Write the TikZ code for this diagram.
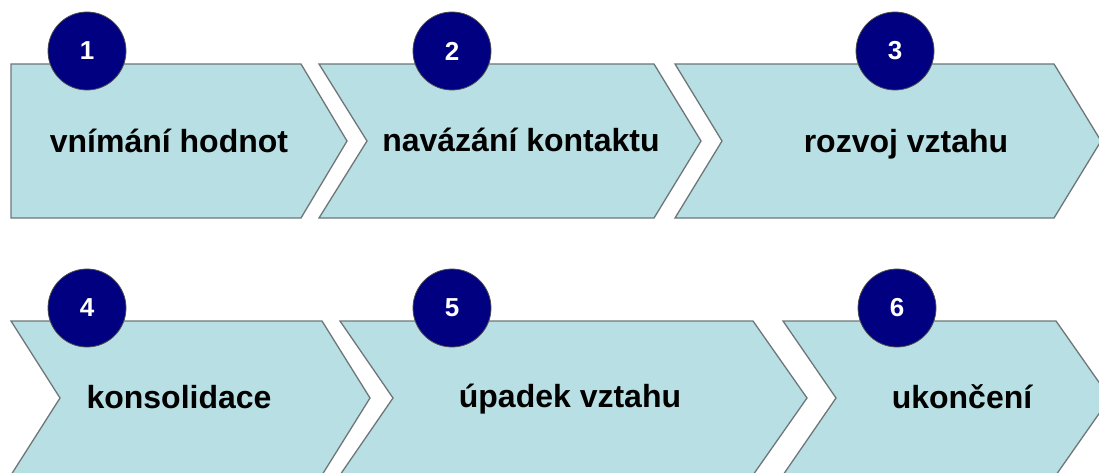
\documentclass[tikz,border=0pt]{standalone}
\usepackage{fontspec}
\setmainfont{Liberation Sans}
\definecolor{chevfill}{RGB}{184,223,227}
\definecolor{chevedge}{RGB}{110,118,120}
\definecolor{navy}{RGB}{0,0,128}
\begin{document}
\begin{tikzpicture}[x=1pt,y=-1pt,
  chev/.style={fill=chevfill,draw=chevedge,line width=1.3pt,line join=miter},
  badge/.style={circle,fill=navy,draw=black!70,line width=0.8pt,minimum size=78pt,inner sep=0pt,
    text=white,font=\fontsize{26}{26}\selectfont\bfseries},
  label/.style={anchor=base,inner sep=0pt,font=\fontsize{32}{32}\selectfont\bfseries,text=black}]
\useasboundingbox (0,0) rectangle (1099,473);
% row 1
\draw[chev] (11,64) -- (301,64) -- (347,141) -- (301,218) -- (11,218) -- cycle;
\draw[chev] (319,64) -- (654,64) -- (701,141) -- (654,218) -- (319,218) -- (367,141) -- cycle;
\draw[chev] (675,64) -- (1054,64) -- (1101,141) -- (1054,218) -- (675,218) -- (722,141) -- cycle;
% row 2
\draw[chev] (11,321) -- (322,321) -- (370,398) -- (322,475) -- (11,475) -- (60,398) -- cycle;
\draw[chev] (340,321) -- (753,321) -- (807,398) -- (753,475) -- (340,475) -- (393,398) -- cycle;
\draw[chev] (783,321) -- (1056,321) -- (1110,398) -- (1056,475) -- (783,475) -- (836,398) -- cycle;
% labels
\node[label] (t1) at (169,153) {vnímání hodnot};
\node[label] (t2) at (521,152) {navázání kontaktu};
\node[label] (t3) at (906,153) {rozvoj vztahu};
\node[label] (t4) at (179,408) {konsolidace};
\node[label] (t5) at (570,407) {úpadek vztahu};
\node[label] (t6) at (962,408) {ukončení};
% badges
\node[badge] (b1) at (87,51) {1};
\node[badge] (b2) at (452,51) {2};
\node[badge] (b3) at (895,51) {3};
\node[badge] (b4) at (87,308) {4};
\node[badge] (b5) at (452,308) {5};
\node[badge] (b6) at (897,308) {6};
\end{tikzpicture}
\end{document}
